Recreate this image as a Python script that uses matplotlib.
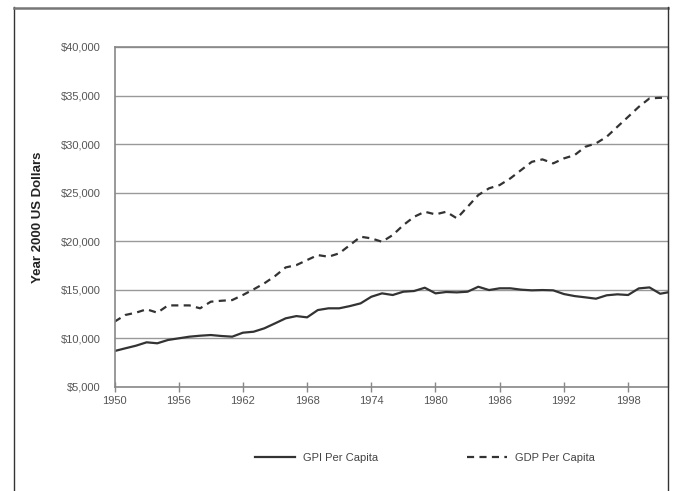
import matplotlib.pyplot as plt
from matplotlib.lines import Line2D

# Data (constant 2000 US dollars)
years = list(range(1950, 2003))
gpi = [8700, 8980, 9250, 9600, 9500, 9840, 10010, 10180, 10280, 10350,
       10250, 10180, 10590, 10690, 11040, 11550, 12070, 12300, 12170, 12920,
       13100, 13100, 13330, 13610, 14290, 14640, 14470, 14810, 14880, 15220,
       14640, 14780, 14740, 14810, 15320, 14980, 15160, 15160, 15020, 14950,
       14980, 14950, 14570, 14360, 14230, 14090, 14440, 14540, 14470, 15150,
       15250, 14600, 14800]
gdp = [11720, 12410, 12650, 13000, 12650, 13400, 13400, 13400, 13100, 13780,
       13880, 13950, 14470, 15050, 15670, 16420, 17310, 17550, 18070, 18580,
       18410, 18760, 19610, 20470, 20300, 19950, 20640, 21670, 22520, 23040,
       22770, 23040, 22360, 23550, 24760, 25450, 25790, 26480, 27330, 28180,
       28430, 28020, 28530, 28870, 29730, 30080, 30760, 31790, 32810, 33840,
       34710, 34770, 34710]
y_ticks = [5000, 10000, 15000, 20000, 25000, 30000, 35000, 40000]
x_ticks = [1950, 1956, 1962, 1968, 1974, 1980, 1986, 1992, 1998]

plt.rcParams['font.family'] = ['Liberation Sans', 'DejaVu Sans']

fig = plt.figure(figsize=(6.73, 4.91), dpi=100)
ax = fig.add_axes([114.5 / 673, 1 - 387 / 491, (668 - 114.5) / 673, 340 / 491])

# outer frame of the chart
fw, fh = 673, 491
fig.add_artist(Line2D([14 / fw, 14 / fw], [0, 1 - 7 / fh], transform=fig.transFigure, color='#333333', lw=1.0))
fig.add_artist(Line2D([14 / fw, 668 / fw], [1 - 7.5 / fh, 1 - 7.5 / fh], transform=fig.transFigure, color='#777777', lw=1.8))
fig.add_artist(Line2D([668 / fw, 668 / fw], [0, 1 - 7 / fh], transform=fig.transFigure, color='#333333', lw=1.0))

ax.plot(years, gpi, color='#333333', lw=1.6, label='GPI Per Capita', solid_joinstyle='round')
ax.plot(years, gdp, color='#333333', lw=1.6, dashes=(3.2, 2.4), label='GDP Per Capita')

ax.set_ylim(5000, 40000)
ax.set_xlim(1950, 2001.73)
ax.set_yticks(y_ticks)
ax.set_yticklabels(['${:,}'.format(v) for v in y_ticks])
ax.set_xticks(x_ticks)
ax.tick_params(axis='y', length=0, pad=10, labelsize=8, labelcolor='#555555')
ax.tick_params(axis='x', direction='inout', length=7, width=1, color='#888888',
               pad=3, labelsize=8, labelcolor='#555555')
ax.grid(axis='y', color='#999999', lw=1.0)
ax.set_axisbelow(True)
for side in ['left', 'bottom', 'top']:
    ax.spines[side].set_color('#888888')
    ax.spines[side].set_linewidth(1.2)
ax.spines['right'].set_color('#333333')

ax.set_ylabel('Year 2000 US Dollars', fontsize=9.5, fontweight='bold', color='#222222', labelpad=12)

fig.legend(loc='center', bbox_to_anchor=(425 / fw, 1 - 457.7 / fh), ncol=2, frameon=False,
           fontsize=8, handlelength=3.6, handletextpad=0.7, columnspacing=8,
           labelcolor='#444444')

fig.savefig('out.png', dpi=100)
